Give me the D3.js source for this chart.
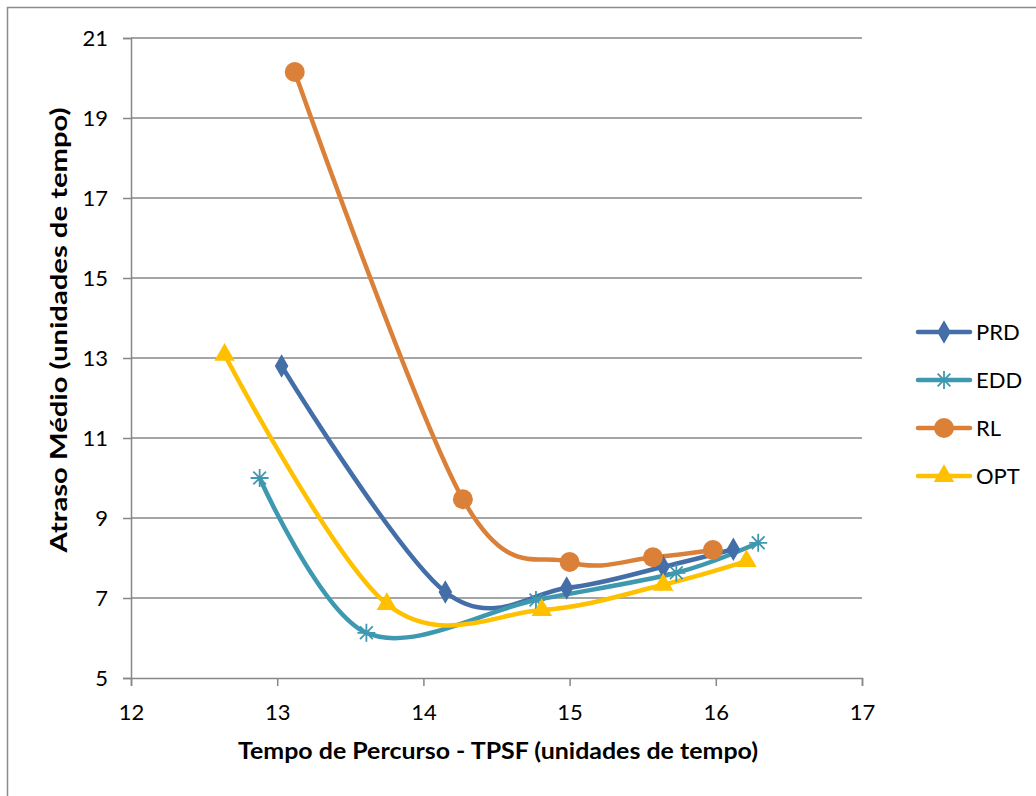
<!DOCTYPE html>
<html><head><meta charset="utf-8">
<script src="https://cdn.jsdelivr.net/npm/d3@7"></script>
<style>body{margin:0;background:#fff}svg{display:block}text{font-family:Lato,"Open Sans",sans-serif}</style>
</head><body>
<svg id="c" width="1036" height="796"></svg>
<script>
const seriesNames = ["PRD","EDD","RL","OPT"];
const prdX = [13.03, 14.15, 14.98, 15.64, 16.12];
const prdY = [12.8, 7.15, 7.25, 7.78, 8.22];
const eddX = [12.88, 13.61, 14.77, 15.73, 16.29];
const eddY = [10.0, 6.13, 6.95, 7.63, 8.38];
const rlX = [13.12, 14.27, 15.0, 15.57, 15.98];
const rlY = [20.15, 9.47, 7.9, 8.02, 8.2];
const optX = [12.64, 13.75, 14.81, 15.64, 16.21];
const optY = [13.08, 6.85, 6.7, 7.33, 7.92];
const xTicks = [12,13,14,15,16,17];
const yTicks = [5,7,9,11,13,15,17,19,21];
const colors = {PRD:"#436EA8", EDD:"#3E98AF", RL:"#DB8038", OPT:"#FFC000"};

const svg = d3.select("#c");
svg.append("rect").attr("x",7.5).attr("y",7.5).attr("width",1040).attr("height",800)
  .attr("fill","#fff").attr("stroke","#8c8c8c").attr("stroke-width",1.5);

const x = d3.scaleLinear().domain([12,17]).range([131,862]);
const y = d3.scaleLinear().domain([5,21]).range([678,38]);

// gridlines
svg.append("g").selectAll("line").data(yTicks.filter(d=>d>5)).join("line")
  .attr("x1",x(12)).attr("x2",x(17)).attr("y1",d=>y(d)).attr("y2",d=>y(d))
  .attr("stroke","#878787").attr("stroke-width",1.5);

const gx = svg.append("g").attr("transform",`translate(0,${y(5)})`)
  .call(d3.axisBottom(x).tickValues(xTicks).tickSize(8).tickPadding(18).tickFormat(d3.format("d")));
const gy = svg.append("g").attr("transform",`translate(${x(12)},0)`)
  .call(d3.axisLeft(y).tickValues(yTicks).tickSize(8).tickPadding(15).tickFormat(d3.format("d")));
[gx,gy].forEach(g=>{
  g.select(".domain").attr("stroke","#878787").attr("stroke-width",1.5);
  g.selectAll(".tick line").attr("stroke","#878787").attr("stroke-width",1.5);
  g.selectAll(".tick text").attr("fill","#000").style("font-size","22px").style("font-family","Lato, sans-serif");
});

svg.append("text").attr("x",498).attr("y",759).attr("text-anchor","middle")
  .attr("textLength",520).attr("lengthAdjust","spacingAndGlyphs")
  .style("font-size","22px").style("font-weight","bold").text("Tempo de Percurso - TPSF (unidades de tempo)");
svg.append("text").attr("transform","translate(67,330) rotate(-90)").attr("text-anchor","middle")
  .attr("textLength",445).attr("lengthAdjust","spacingAndGlyphs")
  .style("font-size","22px").style("font-weight","bold").text("Atraso Médio (unidades de tempo)");

const data = {
  PRD: prdX.map((v,i)=>[v,prdY[i]]),
  EDD: eddX.map((v,i)=>[v,eddY[i]]),
  RL: rlX.map((v,i)=>[v,rlY[i]]),
  OPT: optX.map((v,i)=>[v,optY[i]])
};
const line = d3.line().x(d=>x(d[0])).y(d=>y(d[1])).curve(d3.curveCardinal.tension(0));

function marker(g, name, cx, cy, scale){
  const c = colors[name];
  if(name==="PRD"){
    g.append("path").attr("d",d3.symbol(d3.symbolDiamond, 160*scale)())
      .attr("transform",`translate(${cx},${cy})`).attr("fill",c);
  } else if(name==="EDD"){
    const r=9*Math.sqrt(scale);
    const p=[];
    [0,45,90,135].forEach(a=>{const t=a*Math.PI/180;p.push(`M${cx-r*Math.cos(t)},${cy-r*Math.sin(t)}L${cx+r*Math.cos(t)},${cy+r*Math.sin(t)}`);});
    g.append("path").attr("d",p.join("")).attr("stroke",c).attr("stroke-width",1.8).attr("fill","none");
  } else if(name==="RL"){
    g.append("circle").attr("cx",cx).attr("cy",cy).attr("r",10*Math.sqrt(scale)).attr("fill",c);
  } else {
    g.append("path").attr("d",d3.symbol(d3.symbolTriangle, 180*scale)())
      .attr("transform",`translate(${cx},${cy})`).attr("fill",c);
  }
}

seriesNames.forEach(n=>{
  svg.append("path").datum(data[n]).attr("d",line).attr("fill","none")
    .attr("stroke",colors[n]).attr("stroke-width",4.5).attr("stroke-linecap","round");
});
seriesNames.forEach(n=>{
  const g=svg.append("g");
  data[n].forEach(d=>marker(g,n,x(d[0]),y(d[1]),1));
});

// legend
const lg = svg.append("g");
seriesNames.forEach((n,i)=>{
  const ly = 332 + i*48;
  lg.append("line").attr("x1",918).attr("x2",970).attr("y1",ly).attr("y2",ly)
    .attr("stroke",colors[n]).attr("stroke-width",4.5).attr("stroke-linecap","round");
  marker(lg,n,944,ly,1);
  lg.append("text").attr("x",976).attr("y",ly+8).style("font-size","22px").attr("fill","#000").text(n);
});
</script>
</body></html>
